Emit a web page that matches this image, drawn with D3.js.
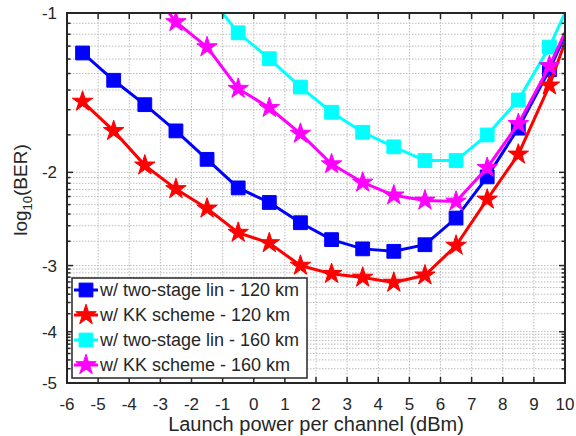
<!DOCTYPE html>
<html>
<head>
<meta charset="utf-8">
<title>BER vs launch power</title>
<style>
  body { margin: 0; background: #fff; }
  text { font-family: "Liberation Sans", Arial, sans-serif; fill: #262626; }
</style>
</head>
<body>
<div id="chart"></div>
<script src="https://cdn.jsdelivr.net/npm/d3@7"></script>
<script>
// launch power per channel (dBm); last point lies outside the axes and is clipped
var powers = [-5.5, -4.5, -3.5, -2.5, -1.5, -0.5, 0.5, 1.5, 2.5, 3.5, 4.5, 5.5, 6.5, 7.5, 8.5, 9.5, 10.5];

// log10(BER) per series
var twoStage120 = [-1.19, -1.34, -1.49, -1.67, -1.89, -2.14, -2.28, -2.49, -2.68, -2.79, -2.82, -2.74, -2.44, -2.04, -1.65, -1.28, -0.95];
var kk120       = [-1.47, -1.67, -1.94, -2.15, -2.34, -2.60, -2.72, -3.00, -3.11, -3.16, -3.23, -3.13, -2.75, -2.25, -1.85, -1.37, -0.94];
var twoStage160 = [null, null, null, null, -0.92, -1.09, -1.22, -1.38, -1.54, -1.68, -1.79, -1.90, -1.90, -1.70, -1.46, -1.16, -0.86];
var kk160       = [null, null, -0.87, -1.04, -1.16, -1.39, -1.51, -1.69, -1.93, -2.09, -2.21, -2.26, -2.27, -1.96, -1.62, -1.26, -0.94];

var seriesNames = ['w/ two-stage lin - 120 km', 'w/ KK scheme - 120 km', 'w/ two-stage lin - 160 km', 'w/ KK scheme - 160 km'];
var seriesValues = [twoStage120, kk120, twoStage160, kk160];
var seriesColors = ['#0000ff', '#ff0000', '#00ffff', '#ff00ff'];
var seriesMarkers = ['square', 'star', 'square', 'star'];

var xTicks = [-6, -5, -4, -3, -2, -1, 0, 1, 2, 3, 4, 5, 6, 7, 8, 9, 10];
var yTicks = [-1, -2, -3, -4, -5];

var width = 576, height = 436;
var pLeft = 67, pRight = 565, pTop = 13, pBottom = 383;

var svg = d3.select('#chart').append('svg')
    .attr('width', width)
    .attr('height', height);

var x = d3.scaleLinear().domain([-6, 10]).range([pLeft, pRight]);
// axis is log of -log10(BER)
var y = d3.scaleLog().domain([1, 5]).range([pTop, pBottom]);

svg.append('defs').append('clipPath').attr('id', 'clip')
  .append('rect')
    .attr('x', pLeft).attr('y', pTop)
    .attr('width', pRight - pLeft).attr('height', pBottom - pTop);

// minor positions: BER = k * 10^-n
var minor = [];
for (var n = 1; n < 5; n++) {
  for (var k = 2; k <= 9; k++) minor.push(n + 1 - Math.log10(k));
}

var grid = svg.append('g')
    .attr('stroke', '#bdbdbd')
    .attr('stroke-width', 1)
    .attr('stroke-dasharray', '1.5,1.5');

grid.selectAll('.vg').data(xTicks.slice(1, -1)).enter().append('line')
    .attr('x1', function(d) { return x(d); })
    .attr('x2', function(d) { return x(d); })
    .attr('y1', pTop).attr('y2', pBottom);

grid.selectAll('.hg').data(minor.concat(yTicks.slice(1, -1).map(function(d) { return -d; }))).enter().append('line')
    .attr('x1', pLeft).attr('x2', pRight)
    .attr('y1', function(d) { return y(d); })
    .attr('y2', function(d) { return y(d); });

// series
var line = d3.line()
    .defined(function(d) { return d[1] != null; })
    .x(function(d) { return x(d[0]); })
    .y(function(d) { return y(-d[1]); });

var plot = svg.append('g').attr('clip-path', 'url(#clip)');

var squareSym = d3.symbol().type(d3.symbolSquare).size(190);
var starSym = d3.symbol().type(d3.symbolStar).size(130);

seriesValues.forEach(function(vals, i) {
  var pts = powers.map(function(p, j) { return [p, vals[j]]; });
  plot.append('path')
      .attr('d', line(pts))
      .attr('fill', 'none')
      .attr('stroke', seriesColors[i])
      .attr('stroke-width', 3);
  plot.selectAll('.m' + i)
      .data(pts.filter(function(d) { return d[1] != null; }))
      .enter().append('path')
      .attr('d', seriesMarkers[i] == 'star' ? starSym : squareSym)
      .attr('transform', function(d) { return 'translate(' + x(d[0]) + ',' + y(-d[1]) + ')'; })
      .attr('fill', seriesColors[i])
      .attr('stroke', seriesColors[i])
      .attr('stroke-width', 1);
});

// ticks
var ticks = svg.append('g').attr('stroke', '#262626').attr('stroke-width', 1.5);
xTicks.forEach(function(d) {
  ticks.append('line').attr('x1', x(d)).attr('x2', x(d)).attr('y1', pBottom).attr('y2', pBottom - 6);
  ticks.append('line').attr('x1', x(d)).attr('x2', x(d)).attr('y1', pTop).attr('y2', pTop + 6);
});
yTicks.forEach(function(d) {
  ticks.append('line').attr('x1', pLeft).attr('x2', pLeft + 6).attr('y1', y(-d)).attr('y2', y(-d));
  ticks.append('line').attr('x1', pRight).attr('x2', pRight - 6).attr('y1', y(-d)).attr('y2', y(-d));
});
minor.forEach(function(d) {
  ticks.append('line').attr('x1', pLeft).attr('x2', pLeft + 3.5).attr('y1', y(d)).attr('y2', y(d));
  ticks.append('line').attr('x1', pRight).attr('x2', pRight - 3.5).attr('y1', y(d)).attr('y2', y(d));
});

// axes box
svg.append('rect')
    .attr('x', pLeft).attr('y', pTop)
    .attr('width', pRight - pLeft).attr('height', pBottom - pTop)
    .attr('fill', 'none')
    .attr('stroke', '#262626')
    .attr('stroke-width', 2);

// tick labels
svg.selectAll('.xl').data(xTicks).enter().append('text')
    .attr('x', function(d) { return x(d); })
    .attr('y', 410)
    .attr('text-anchor', 'middle')
    .attr('font-size', 17)
    .text(function(d) { return d; });

svg.selectAll('.yl').data(yTicks).enter().append('text')
    .attr('x', 57)
    .attr('y', function(d) { return y(-d) + 6; })
    .attr('text-anchor', 'end')
    .attr('font-size', 17)
    .text(function(d) { return d; });

// axis titles
svg.append('text')
    .attr('x', 316)
    .attr('y', 431)
    .attr('text-anchor', 'middle')
    .attr('font-size', 20)
    .text('Launch power per channel (dBm)');

var yt = svg.append('text')
    .attr('transform', 'translate(27,190) rotate(-90)')
    .attr('text-anchor', 'middle')
    .attr('font-size', 19);
yt.append('tspan').text('log');
yt.append('tspan').attr('font-size', 13).attr('dy', 5).text('10');
yt.append('tspan').attr('dy', -5).text('(BER)');

// legend
var lg = svg.append('g');
lg.append('rect')
    .attr('x', 72).attr('y', 278)
    .attr('width', 235).attr('height', 100)
    .attr('fill', '#fff')
    .attr('stroke', '#262626')
    .attr('stroke-width', 1.5);

seriesNames.forEach(function(name, i) {
  var cy = 290 + i * 25;
  lg.append('line')
      .attr('x1', 74).attr('x2', 98)
      .attr('y1', cy).attr('y2', cy)
      .attr('stroke', seriesColors[i])
      .attr('stroke-width', 3);
  lg.append('path')
      .attr('d', seriesMarkers[i] == 'star' ? starSym : squareSym)
      .attr('transform', 'translate(86,' + cy + ')')
      .attr('fill', seriesColors[i])
      .attr('stroke', seriesColors[i]);
  lg.append('text')
      .attr('x', 100)
      .attr('y', cy + 6)
      .attr('font-size', 18)
      .text(name);
});
</script>
</body>
</html>
